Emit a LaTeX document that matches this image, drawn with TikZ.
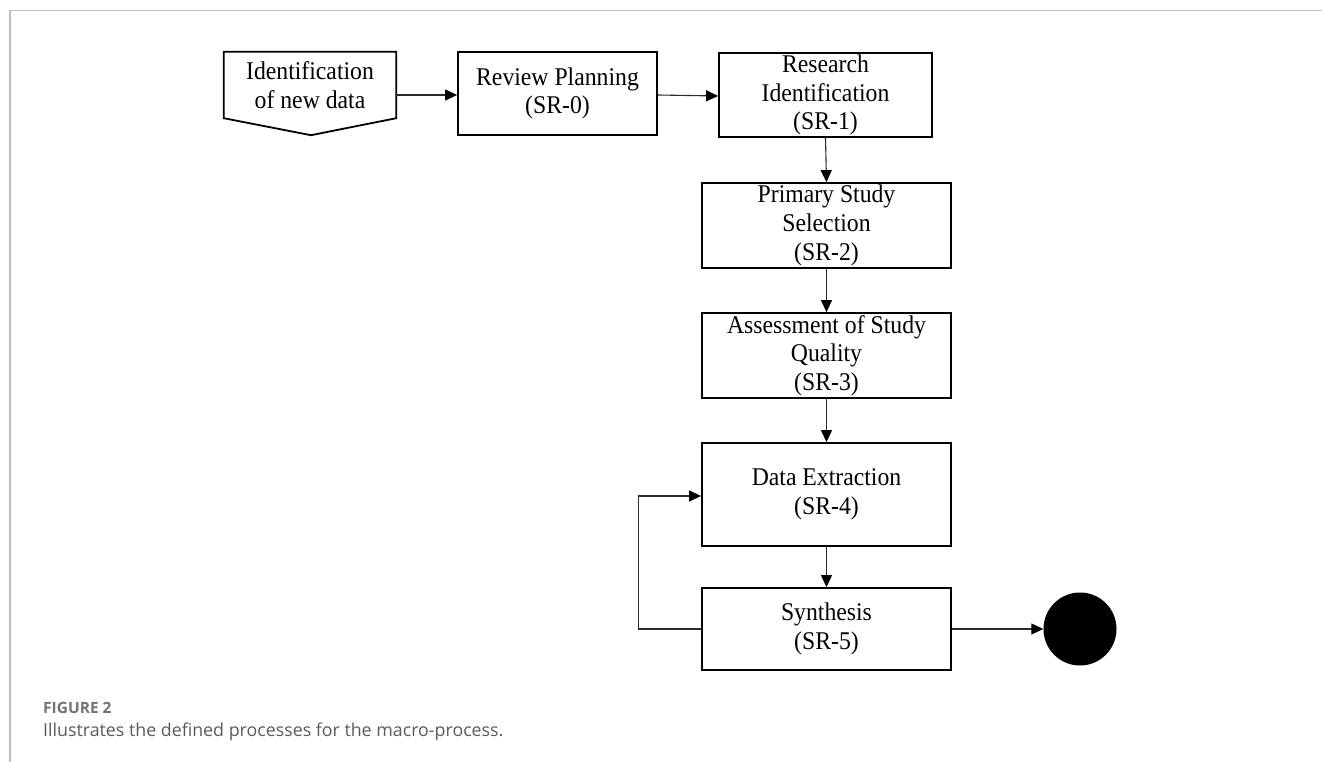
\documentclass[tikz,border=0pt]{standalone}
\usepackage{fontspec}
\setmainfont{Liberation Serif}
\newfontfamily\boxfont[FakeStretch=0.93]{Liberation Serif}
\newfontfamily\capfont{Open Sans}
\usetikzlibrary{arrows.meta,calc}
\definecolor{framegray}{HTML}{BDBDBD}
\definecolor{capgray}{HTML}{5A5A5A}
\definecolor{linkgray}{HTML}{2A2A2A}
\begin{document}
\begin{tikzpicture}[x=1pt,y=-1pt,
  boxtext/.style={inner sep=0pt, align=center,
    font=\boxfont\fontsize{25.5}{28.7}\selectfont},
  proc/.style={boxtext, draw=black, line width=1.8pt},
  link/.style={draw=linkgray, line width=1.1pt,
    -{Triangle[length=12pt,width=11pt,color=black]}},
  frameline/.style={draw=framegray, line width=1.6pt}]
\useasboundingbox (0,0) rectangle (1322,762);

% page frame
\draw[frameline] (10,762) -- (10,10.5) -- (1322,10.5);

% off-page entry
\node[boxtext, minimum width=172pt, minimum height=66pt] (idn) at (310,85)
  {Identification\\of new data};
\draw[line width=1.8pt, line join=miter] (idn.north west) -- (idn.north east) -- (idn.south east)
  -- ($(idn.south)+(1,17)$) -- (idn.south west) -- cycle;

% process steps
\node[proc, minimum width=199pt, minimum height=83pt] (rp) at (557.5,93.5) {Review Planning\\(SR-0)};
\node[proc, minimum width=213pt, minimum height=84pt] (sr1) at (825.5,95) {Research\\Identification\\(SR-1)};
\node[proc, minimum width=249pt, minimum height=85pt] (sr2) at (826.5,225.5) {Primary Study\\Selection\\(SR-2)};
\node[proc, minimum width=249pt, minimum height=85pt] (sr3) at (826.5,355.5) {Assessment of Study\\Quality\\(SR-3)};
\node[proc, minimum width=249pt, minimum height=103pt] (sr4) at (826.5,494.5) {Data Extraction\\(SR-4)};
\node[proc, minimum width=249pt, minimum height=82pt] (sr5) at (826.5,629) {Synthesis\\(SR-5)};

% final state
\node[circle, fill=black, minimum size=73pt, inner sep=0pt] (fin) at (1080,629) {};

% connectors
\draw[link] (idn.east |- 0,95) -- (rp.west |- 0,95);
\draw[link] (rp.east |- 0,95) -- (sr1.west |- 0,96);
\draw[link] (sr1.south) -- (sr2.north);
\draw[link] (sr2.south) -- (sr3.north);
\draw[link] (sr3.south) -- (sr4.north);
\draw[link] (sr4.south) -- (sr5.north);
\draw[link] (sr5.west) -- ++(-63,0) |- (sr4.west |- 0,496);
\draw[link] (sr5.east) -- (fin.west);

% caption
\node[anchor=base west, inner sep=0pt, text=capgray!85,
  font=\capfont\bfseries\fontsize{15.5}{18}\selectfont] (figlbl) at (43,713) {FIGURE 2};
\node[anchor=base west, inner sep=0pt, text=capgray,
  font=\capfont\fontsize{17.8}{21}\selectfont] (figcap) at (43,736)
  {Illustrates the defined processes for the macro-process.};
\end{tikzpicture}
\end{document}
